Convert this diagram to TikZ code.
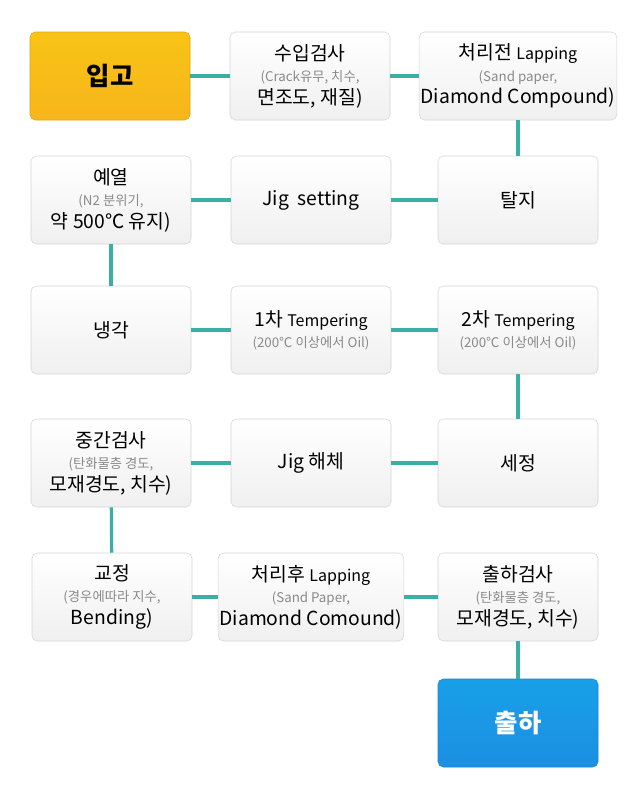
\documentclass[tikz,border=0pt]{standalone}
\usepackage{fontspec}
\setmainfont{Noto Sans CJK KR}
\usetikzlibrary{positioning}
\definecolor{lineteal}{HTML}{3AAFA4}
\definecolor{boxedge}{HTML}{D4D4D4}
\definecolor{subgray}{HTML}{8A8A8A}
\definecolor{ingold}{HTML}{F7B51B}
\definecolor{outblue}{HTML}{1C8FE3}
\newcommand{\subtxt}{\\[-1pt]\fontsize{10}{12}\selectfont\color{subgray}}
\newcommand{\lap}[1]{{\fontsize{12}{14}\selectfont #1}}
\begin{document}
\begin{tikzpicture}[x=0.75pt,y=-0.75pt,
    font=\fontsize{14.5}{17}\selectfont,
    stepbox/.style={
        rectangle, draw=boxedge, rounded corners=4pt, align=center,
        top color=white, bottom color=black!6,
        minimum width=120pt, minimum height=66pt, inner sep=1pt},
    endbox/.style={stepbox, font=\fontsize{19}{22}\selectfont\bfseries},
    link/.style={draw=lineteal, line width=2.4pt},
]
  \useasboundingbox (0,0) rectangle (640,800);
  %--- row 1
  \node (ipgo) [endbox, top color=ingold!80!yellow, bottom color=ingold, draw=ingold!90!black] at (110,76) {입고};
  \node (susp) [stepbox] at (310,76) {수입검사\subtxt (Crack유무, 치수,\\면조도, 재질)};
  \node (prelap) [stepbox, minimum width=131pt] at (518,76) {처리전 \lap{Lapping}\subtxt (Sand paper,\\Diamond Compound)};
  %--- row 2
  \node (preheat) [stepbox] at (111,200) {예열\subtxt (N2 분위기,\\약 500℃ 유지)};
  \node (jigset) [stepbox] at (311,200) {Jig\ \ setting};
  \node (talji) [stepbox] at (518,200) {탈지};
  %--- row 3
  \node (cool) [stepbox] at (111,330) {냉각};
  \node (temp1) [stepbox] at (311,330) {1차 \lap{Tempering}\subtxt (200℃ 이상에서 Oil)};
  \node (temp2) [stepbox] at (518,330) {2차 \lap{Tempering}\subtxt (200℃ 이상에서 Oil)};
  %--- row 4
  \node (midck) [stepbox] at (111,463) {중간검사\subtxt (탄화물층 경도,\\모재경도, 치수)};
  \node (jigoff) [stepbox] at (311,463) {Jig 해체};
  \node (wash) [stepbox] at (518,463) {세정};
  %--- row 5
  \node (straight) [stepbox] at (112,597) {교정\subtxt (경우에따라 지수,\\Bending)};
  \node (postlap) [stepbox] at (311,597) {처리후 \lap{Lapping}\subtxt (Sand Paper,\\Diamond Comound)};
  \node (shipck) [stepbox] at (518,597) {출하검사\subtxt (탄화물층 경도,\\모재경도, 치수)};
  %--- row 6
  \node (ship) [endbox, text=white, top color=outblue!85!cyan, bottom color=outblue, draw=outblue!90!black] at (518,723) {출하};

  %--- connectors
  \draw[link] (ipgo) -- (susp);
  \draw[link] (susp) -- (prelap);
  \draw[link] (prelap) -- (talji);
  \draw[link] (talji) -- (jigset);
  \draw[link] (jigset) -- (preheat);
  \draw[link] (preheat) -- (cool);
  \draw[link] (cool) -- (temp1);
  \draw[link] (temp1) -- (temp2);
  \draw[link] (temp2) -- (wash);
  \draw[link] (wash) -- (jigoff);
  \draw[link] (jigoff) -- (midck);
  \draw[link] (midck) -- (straight);
  \draw[link] (straight) -- (postlap);
  \draw[link] (postlap) -- (shipck);
  \draw[link] (shipck) -- (ship);
\end{tikzpicture}
\end{document}
